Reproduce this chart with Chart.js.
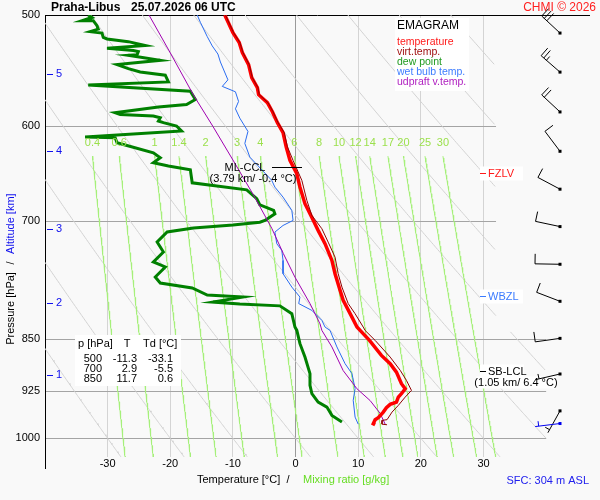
<!DOCTYPE html>
<html>
<head>
<meta charset="utf-8">
<script src="https://cdn.jsdelivr.net/npm/chart.js@4.4.0/dist/chart.umd.min.js"></script>
<style>
  body { margin: 0; background: #f9f9f9; }
  canvas { display: block; }
</style>
</head>
<body>
<canvas id="emagram" width="600" height="500"></canvas>
<script>
// axes
const yTicks = [500, 600, 700, 850, 925, 1000];
const xTicks = [-30, -20, -10, 0, 10, 20, 30];

// background lines
const thetaLines = [-30, -20, -10, 0, 10, 20, 30, 40, 50, 60, 70, 80, 90, 100];
const mixRatios = [0.4, 0.6, 1, 1.4, 2, 3, 4, 6, 8, 10, 12, 14, 17, 20, 25, 30];

// altitude marks (km) and their pressure
const altKm = [1, 2, 3, 4, 5];
const altPres = [902, 801, 710, 625, 551];

// temperature profile
const presT = [500, 514.6, 523, 531.7, 542.3, 554, 563.2, 569.7, 577.2, 585.8, 596.4, 606.3, 620.4, 634.4,
  648.4, 662.8, 681, 698, 711.4, 727.1, 747.3, 763.7, 784.8, 797.8, 819.9, 833.4, 838, 851.8, 873,
  884.9, 897.2, 914.4, 921.9, 929.5, 934.7, 942.4, 945.9, 951, 957.9, 966.7, 969.9, 976.3, 978];
const tempC = [-11.3, -10.0, -9.0, -8.5, -7.5, -7.0, -6.1, -5.9, -4.5, -3.7, -2.9, -2.0, -1.5, -0.9,
  0.2, 0.7, 1.5, 2.7, 3.6, 4.7, 5.8, 6.3, 7.1, 7.6, 9.0, 9.8, 10.3, 11.8, 13.7,
  15.1, 16.1, 16.9, 17.5, 16.9, 16.4, 16.1, 15.1, 14.5, 14.0, 13.2, 12.7, 12.4, 12.7];

// virtual temperature
const presTv = [500, 514.6, 523, 531.7, 542.3, 554, 563.2, 569.7, 577.2, 585.8, 596.4, 606.3, 620.4, 634.4,
  655.5, 677.3, 694.2, 709.5, 725.2, 743.3, 763.7, 780.6, 802, 815.4, 833.4, 838, 851.8, 875.4, 894.6,
  909.5, 924.5, 934.7, 947.5, 957.9, 969.9, 971, 977, 978];
const virtC = [-11.2, -9.9, -8.9, -8.4, -7.4, -6.9, -6.0, -5.8, -4.4, -3.6, -2.8, -1.8, -1.3, -0.4,
  1.0, 1.8, 2.6, 4.2, 5.2, 6.3, 6.8, 7.4, 8.4, 9.5, 10.8, 11.1, 12.7, 15.1, 16.7,
  17.7, 18.5, 17.5, 16.4, 15.4, 14.6, 13.8, 13.8, 14.6];

// dew point
const presTd = [500, 502, 504.7, 504.7, 508.8, 511.7, 513.8, 515, 518.6, 520, 522.3, 525.6, 527.9, 529.9,
  530.8, 533.6, 534.1, 538.5, 542.3, 545.9, 548.9, 551.8, 557.9, 560.8, 566.4, 574.2, 578.9, 581.3,
  586.7, 588.4, 589.9, 591.6, 594.8, 596.4, 599.7, 604.6, 610.6, 611.3, 616.3, 618.1, 626.5, 631.7,
  636.9, 640.3, 644.2, 658.1, 665.7, 675.5, 682.3, 688.5, 692.4, 699.9, 701.9, 705.1, 708.6, 713.3,
  725, 737, 749.2, 755.3, 767.8, 775.4, 781.8, 790.9, 793.5, 800, 802.6, 805, 815.4, 833.4, 838,
  856.4, 875.4, 899.5, 917, 929.5, 942.4, 950.1, 963.1, 968.3, 973.7];
const dewC = [-33.1, -32.5, -34.1, -32.3, -31.7, -31.5, -32.8, -30.9, -30.7, -30.1, -26.7, -24.0, -30.1, -25.9,
  -25.1, -25.3, -26.7, -21.6, -28.5, -26.7, -24.8, -20.8, -20.3, -33.1, -16.8, -16.0, -17.4, -21.9,
  -28.8, -28.0, -22.7, -21.6, -21.9, -21.1, -19.0, -18.2, -33.6, -28.8, -28.5, -27.5, -22.7, -21.6,
  -22.7, -20.3, -16.8, -16.5, -7.8, -6.2, -5.7, -3.5, -3.3, -4.9, -5.7, -10.0, -16.3, -20.5,
  -22.1, -21.1, -22.7, -20.8, -22.4, -21.6, -16.5, -14.1, -8.4, -13.2, -8.9, -2.5, -0.6, -0.1, 0.2,
  0.7, 1.5, 2.3, 2.3, 2.6, 3.6, 5.0, 5.8, 6.6, 7.4];

// wet bulb temperature
const presTw = [500, 506, 518, 526, 533, 540, 556, 562, 567, 576, 583, 592, 605, 617, 631, 640, 655.5,
  662.8, 673.7, 688.5, 699.9, 705.7, 713.4, 727.1, 735.1, 747.3, 763.7, 780.6, 793.5, 802, 811, 824.4,
  833.4, 838, 861, 884.9, 899.5, 921.9, 939.6, 965.8, 977];
const wetC = [-15.7, -15.2, -14.1, -13.3, -12.4, -12.0, -10.8, -11.7, -9.6, -9.1, -9.6, -8.9, -7.6, -8.1,
  -7.3, -6.0, -3.8, -3.3, -2.0, -0.6, -0.4, -2.0, -3.3, -3.0, -2.2, -2.0, -2.0, -0.6, 0.7, 0.5, 2.6, 4.2,
  4.7, 5.5, 6.6, 7.9, 9.0, 9.5, 9.2, 9.5, 10.0];

// updraft parcel virtual temperature
const presPc = [500, 532, 570, 600, 634, 674, 709, 739, 768, 802, 829, 838, 861, 895, 922, 940, 960, 977];
const parcelC = [-23.4, -20.0, -16.3, -13.2, -10.0, -6.5, -3.8, -1.95, -0.1, 2.3, 3.9, 4.2, 5.8, 7.6,
  9.8, 11.9, 13.5, 14.3];

// wind
const windPres = [515, 549, 586, 625, 665, 707, 752, 799, 849, 900, 956];
const windDir = [313, 311, 313, 323, 298, 282, 271, 291, 262, 257, 209];
const windKt = [30, 25, 20, 10, 10, 10, 10, 10, 10, 5, 5];
const sfcWindPres = 976, sfcWindDir = 263, sfcWindKt = 5;

// table of levels
const tabPres = [500, 700, 850];
const tabT = [-11.3, 2.9, 11.7];
const tabTd = [-33.1, -5.5, 0.6];

const legendItems = ['temperature', 'virt.temp.', 'dew point', 'wet bulb temp.', 'udpraft v.temp.'];
const legendColors = ['#ff1a1a', '#a01010', '#1f9a1f', '#3c7cff', '#b020c0'];

const FONT = '"Liberation Sans", Arial, sans-serif';
Chart.defaults.font.family = FONT;

const pts = (ps, ts) => ps.map((p, i) => ({ x: ts[i], y: p }));

// background reference lines
const bgPres = [];
for (let p = 500; p <= 1032; p += 2) bgPres.push(p);

function dryAdiabat(theta) {
  return bgPres.map(p => {
    const t = (theta + 273.15) * Math.pow(p / 1000, 0.2857) - 273.15;
    const lim = p < 840 ? 32 : 40;
    return { x: t <= lim ? t : null, y: p };
  });
}
function mixTd(w, p) {
  const e = w * p / (622 + w);
  const l = Math.log(e / 6.112);
  return 243.5 * l / (17.67 - l);
}
function mixLine(w) {
  return bgPres.filter(p => p >= 630).map(p => ({ x: mixTd(w, p), y: p }));
}

const datasets = [];
thetaLines.forEach(th => datasets.push({
  data: dryAdiabat(th), borderColor: '#d2d2d2', borderWidth: 1, order: 20, spanGaps: false
}));
mixRatios.forEach(w => datasets.push({
  data: mixLine(w), borderColor: '#a6f07a', borderWidth: 1, order: 19
}));
datasets.push({ data: pts(presTd, dewC), borderColor: '#008000', borderWidth: 3, order: 5 });
datasets.push({ data: pts(presTw, wetC), borderColor: '#2a6cf0', borderWidth: 1, order: 4 });
datasets.push({ data: pts(presPc, parcelC), borderColor: '#a000b0', borderWidth: 1, order: 3 });
datasets.push({ data: pts(presT, tempC), borderColor: '#ff0000', borderWidth: 3.5, order: 2 });
datasets.push({ data: pts(presTv, virtC), borderColor: '#900000', borderWidth: 1, order: 1 });
datasets.forEach(d => { d.showLine = true; d.pointRadius = 0; d.fill = false; d.tension = 0; });

function text(ctx, s, x, y, color, font, align) {
  ctx.fillStyle = color;
  ctx.font = font;
  ctx.textAlign = align || 'left';
  ctx.textBaseline = 'middle';
  ctx.fillText(s, x, y);
}

function drawBarb(ctx, x, y, dir, kt, color) {
  const r = dir * Math.PI / 180;
  const ux = Math.sin(r), uy = -Math.cos(r);
  const px = -uy, py = ux;
  const ex = x + ux * 25, ey = y + uy * 25;
  ctx.strokeStyle = color;
  ctx.lineWidth = 1;
  ctx.beginPath();
  ctx.moveTo(x, y);
  ctx.lineTo(ex, ey);
  let s = kt, k = 0;
  while (s >= 10) {
    const bx = ex - ux * k * 3.5, by = ey - uy * k * 3.5;
    ctx.moveTo(bx, by);
    ctx.lineTo(bx + px * 10, by + py * 10);
    s -= 10; k++;
  }
  if (s >= 5) {
    if (k === 0) k = 1;
    const bx = ex - ux * k * 3.5, by = ey - uy * k * 3.5;
    ctx.moveTo(bx, by);
    ctx.lineTo(bx + px * 5, by + py * 5);
  }
  ctx.stroke();
  ctx.fillStyle = color;
  ctx.fillRect(x - 1.5, y - 1.5, 3, 3);
}

const emagramPlugin = {
  id: 'emagram',
  beforeDatasetsDraw(chart) {
    const { ctx, chartArea: a, scales: { x, y } } = chart;
    ctx.save();
    // isobars
    yTicks.forEach(p => {
      const py = Math.round(y.getPixelForValue(p)) + 0.5;
      const xe = p === 500 ? a.right : x.getPixelForValue(p < 800 ? 32 : 40);
      ctx.strokeStyle = p === 500 ? '#000' : '#a4a4a4';
      ctx.lineWidth = 1;
      ctx.beginPath();
      ctx.moveTo(a.left, py);
      ctx.lineTo(xe, py);
      ctx.stroke();
    });
    // left axis line
    ctx.strokeStyle = '#000';
    ctx.beginPath();
    ctx.moveTo(a.left + 0.5, a.top);
    ctx.lineTo(a.left + 0.5, 469);
    ctx.stroke();
    ctx.restore();
  },
  afterDatasetsDraw(chart) {
    const { ctx, chartArea: a, scales: { x, y } } = chart;
    ctx.save();
    const f10 = '10.5px ' + FONT, f11 = '11px ' + FONT;

    // mixing ratio labels
    mixRatios.forEach(w => {
      text(ctx, String(w), x.getPixelForValue(mixTd(w, 630)), y.getPixelForValue(617), '#9be04c', f11, 'center');
    });

    // altitude marks
    altKm.forEach((km, i) => {
      const py = y.getPixelForValue(altPres[i]);
      ctx.fillStyle = '#1010ee';
      ctx.fillRect(a.left + 2, Math.round(py), 6, 1);
      text(ctx, String(km), a.left + 14, py, '#1010ee', f11, 'center');
    });

    // legend box
    ctx.fillStyle = '#fff';
    ctx.fillRect(395, 18, 74, 73);
    text(ctx, 'EMAGRAM', 397, 26, '#000', '12px ' + FONT);
    legendItems.forEach((s, i) => text(ctx, s, 397, 42 + i * 10, legendColors[i], f10));

    // level table
    ctx.fillStyle = '#fff';
    ctx.fillRect(75, 335, 106, 51);
    text(ctx, 'p [hPa]', 78, 344, '#000', f11);
    text(ctx, 'T', 127, 344, '#000', f11, 'center');
    text(ctx, 'Td [°C]', 143, 344, '#000', f11);
    tabPres.forEach((p, i) => {
      const ty = 359 + i * 10;
      text(ctx, String(p), 102, ty, '#000', f11, 'right');
      text(ctx, tabT[i].toFixed(1), 137, ty, '#000', f11, 'right');
      text(ctx, tabTd[i].toFixed(1), 173, ty, '#000', f11, 'right');
    });

    // ML-CCL
    const yc = Math.round(y.getPixelForValue(641)) + 0.5;
    ctx.strokeStyle = '#000';
    ctx.beginPath();
    ctx.moveTo(272, yc);
    ctx.lineTo(302, yc);
    ctx.stroke();
    text(ctx, 'ML-CCL', 245, yc, '#000', f11, 'center');
    text(ctx, '(3.79 km/ -0.4 °C)', 253, yc + 11, '#000', f11, 'center');

    // right-side levels
    const marks = [
      { p: 648, s: 'FZLV', c: '#ff1a1a' },
      { p: 792, s: 'WBZL', c: '#3c7cff' },
      { p: 896, s: 'SB-LCL', c: '#000' }
    ];
    marks.forEach(m => {
      const py = Math.round(y.getPixelForValue(m.p)) + 0.5;
      ctx.fillStyle = '#fff';
      ctx.fillRect(480, py - 7, m.s === 'SB-LCL' ? 44 : 43, 14);
      ctx.strokeStyle = m.c;
      ctx.beginPath();
      ctx.moveTo(480, py);
      ctx.lineTo(486, py);
      ctx.stroke();
      text(ctx, m.s, 488, py, m.c, f11);
      if (m.s === 'SB-LCL') {
        ctx.fillStyle = '#fff';
        ctx.fillRect(476, py + 5, 80, 12);
        text(ctx, '(1.05 km/ 6.4 °C)', 516, py + 11, '#000', f11, 'center');
      }
    });
    ctx.restore();
  },
  afterDraw(chart) {
    const { ctx, scales: { y } } = chart;
    ctx.save();
    const f11 = '11px ' + FONT;
    // titles
    text(ctx, 'Praha-Libus', 51, 8, '#000', 'bold 12px ' + FONT);
    text(ctx, '25.07.2026 06 UTC', 131, 8, '#000', 'bold 12px ' + FONT);
    text(ctx, 'CHMI © 2026', 596, 8, '#ff2020', '12px ' + FONT, 'right');

    text(ctx, 'Temperature [°C]', 197, 480, '#000', f11);
    text(ctx, '/', 288, 480, '#000', f11, 'center');
    text(ctx, 'Mixing ratio [g/kg]', 303, 480, '#66dd22', f11);
    text(ctx, 'SFC: 304 m ASL', 589, 481, '#2020ee', f11, 'right');

    ctx.translate(11, 263);
    ctx.rotate(-Math.PI / 2);
    text(ctx, 'Pressure [hPa]  ', -3, 0, '#000', f11, 'right');
    text(ctx, '/', 0, 0, '#000', f11, 'center');
    text(ctx, '  Altitude [km]', 3, 0, '#1010ee', f11, 'left');
    ctx.setTransform(1, 0, 0, 1, 0, 0);

    // wind barbs
    windPres.forEach((p, i) => drawBarb(ctx, 560, y.getPixelForValue(p), windDir[i], windKt[i], '#000'));
    drawBarb(ctx, 560, y.getPixelForValue(sfcWindPres), sfcWindDir, sfcWindKt, '#0000ee');
    ctx.restore();
  }
};

new Chart(document.getElementById('emagram'), {
  type: 'scatter',
  data: { datasets },
  options: {
    responsive: false,
    animation: false,
    devicePixelRatio: 1,
    layout: { padding: { top: 15, right: 10, left: 0, bottom: 0 } },
    plugins: { legend: { display: false }, tooltip: { enabled: false } },
    scales: {
      x: {
        type: 'linear',
        min: -40,
        max: 47,
        afterBuildTicks: s => { s.ticks = xTicks.map(v => ({ value: v })); },
        afterFit: s => { s.height = 43; },
        ticks: { color: '#000', font: { size: 11 }, padding: 0, maxRotation: 0, callback: v => v },
        grid: {
          drawTicks: false,
          color: c => (c.tick && c.tick.value === 0 ? '#9a9a9a' : '#d4d4d4')
        },
        border: { display: false }
      },
      y: {
        type: 'logarithmic',
        reverse: true,
        min: 500,
        max: 1031,
        afterBuildTicks: s => { s.ticks = yTicks.map(v => ({ value: v })); },
        afterFit: s => { s.width = 45; },
        ticks: { color: '#000', font: { size: 11 }, padding: 5, callback: v => v },
        grid: { display: false, drawTicks: false },
        border: { display: false }
      }
    }
  },
  plugins: [emagramPlugin]
});
</script>
</body>
</html>
